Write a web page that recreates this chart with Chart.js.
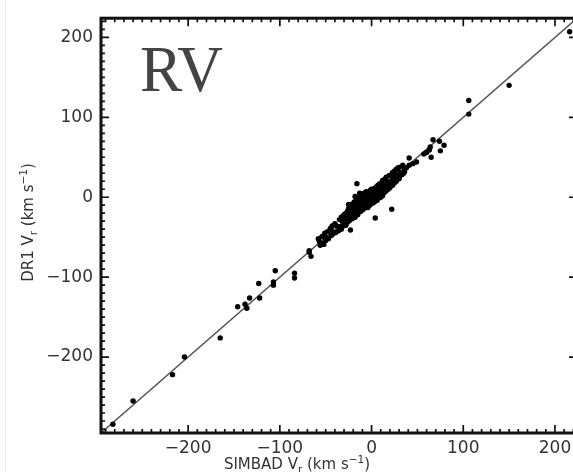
<!DOCTYPE html>
<html><head><meta charset="utf-8">
<script src="https://cdn.jsdelivr.net/npm/chart.js@4/dist/chart.umd.min.js"></script>
<style>
html,body{margin:0;padding:0;background:#fff;overflow:hidden;width:573px;height:472px}
#wrap{position:relative;width:590px;height:472px}
</style>
</head><body><div id="wrap"><canvas id="c" width="590" height="472"></canvas></div>
<script>
// ---- data ----
const axisMin = -295, axisMax = 224;
const xTicks = [-200, -100, 0, 100, 200];
const yTicks = [-200, -100, 0, 100, 200];
const minorStep = 10;
const xTitle = ['SIMBAD V', {sub: 'r'}, ' (km s', {sup: '\u22121'}, ')'];
const yTitle = ['DR1 V', {sub: 'r'}, ' (km s', {sup: '\u22121'}, ')'];
const panelLabel = 'RV';

// SIMBAD Vr (x) and DR1 Vr (y), km/s
const simbadV = [
 216,150,106,106,67,74,79,75,64,63,60,57,65,41,49,45,41,38,36,32,30,
 15,-16,-13,-18,-25,22,4,-31,-23,-44,-51,-57,-68,-66,-68,-105,-84,-84,-52,-49,
 -123,-107,-107,-133,-122,-146,-138,-136,-165,-204,-217,-260,-282,
 -58,-56,-54,-53,-51,-50,-48,-47,-45,-44,-43,-42,-40,-39,-38,
 -36,-35,-34,-33,-33,-32,-31,-30,-30,-29,-28,-28,-27,-26,-26,-25,-25,-24,-24,-23,-23,-22,-22,-21,-21,-20,-20,-19,-19,-18,
 -18,-17,-17,-16,-16,-15,-15,-14,-14,-13,-13,-12,-12,-11,-11,-10,-10,-9,-9,-8,-8,-7,-7,-6,-6,-5,-5,-4,-4,-3,-3,-2,-2,-1,-1,0,0,0,-6,-10,
 1,1,2,2,3,3,4,4,5,5,6,6,7,7,8,8,9,9,10,10,11,11,12,12,13,14,14,15,16,16,17,18,19,19,20,
 21,21,22,23,23,24,25,25,26,27,27,28,29,30,31,32,33,34,35,36
];
const dr1V = [
 207,140,121,104,72,70,65,58,63,59,56,54,50,49,44,42,40,37,32,28,23,
 23,17,5,1,-9,-15,-26,-24,-41,-41,-50,-55,-67,-74,-69,-92,-95,-101,-59,-51,
 -108,-106,-110,-126,-126,-137,-134,-139,-176,-200,-222,-255,-284,
 -52,-60,-49,-58,-45,-54,-43,-52,-39,-48,-36,-46,-33,-44,-36,
 -42,-28,-37,-25,-40,-30,-36,-22,-34,-27,-20,-35,-24,-17,-31,-24,-14,-29,-19,-12,-27,-19,-9,-27,-16,-12,-24,-6,-19,-13,
 -25,-8,-18,-12,-2,-22,-10,-5,-17,0,-11,-18,-6,2,-12,-4,-16,-1,-9,5,-14,-4,3,-11,-2,6,-8,-1,-13,7,-5,2,-10,9,-3,3,-8,10,7,4,
 -4,8,4,-7,11,-1,6,-5,13,1,8,-4,15,3,10,-1,17,5,12,0,18,8,2,21,13,6,22,15,8,25,18,10,27,19,12,
 28,15,21,31,15,24,33,18,27,35,20,28,37,25,31,38,28,40,30,36
];
const linePts = [axisMin, axisMax];

// ---- chart ----
const fmt = v => (v < 0 ? '\u2212' + Math.abs(v) : String(v));
const points = simbadV.map((x, i) => ({x: x, y: dr1V[i]}));

function drawRich(ctx, parts, size, family) {
  const segs = parts.map(p => {
    if (typeof p === 'string') return {t: p, s: size, dy: 0};
    if (p.sub) return {t: p.sub, s: size * 0.7, dy: size * 0.25};
    return {t: p.sup, s: size * 0.7, dy: -size * 0.42};
  });
  let total = 0;
  segs.forEach(s => { ctx.font = s.s + 'px "' + family + '"'; s.w = ctx.measureText(s.t).width; total += s.w; });
  let x = -total / 2;
  segs.forEach(s => { ctx.font = s.s + 'px "' + family + '"'; ctx.fillText(s.t, x, s.dy); x += s.w; });
}

const framePlugin = {
  id: 'frame',
  afterDatasetsDraw(chart) {
    const {ctx, chartArea: a, scales: {x, y}} = chart;
    ctx.save();
    ctx.strokeStyle = '#111';
    ctx.lineWidth = 1.7;
    ctx.beginPath();
    for (let v = Math.ceil(axisMin / minorStep) * minorStep; v <= axisMax; v += minorStep) {
      const L = (v % 100 === 0) ? 8 : 4;
      const px = x.getPixelForValue(v), py = y.getPixelForValue(v);
      ctx.moveTo(px, a.bottom); ctx.lineTo(px, a.bottom - L);
      ctx.moveTo(px, a.top); ctx.lineTo(px, a.top + L);
      ctx.moveTo(a.left, py); ctx.lineTo(a.left + L, py);
      ctx.moveTo(a.right, py); ctx.lineTo(a.right - L, py);
    }
    ctx.stroke();
    ctx.lineWidth = 3;
    ctx.strokeRect(a.left, a.top, a.right - a.left, a.bottom - a.top);
    ctx.restore();
  },
  afterDraw(chart) {
    const ctx = chart.ctx;
    ctx.save();
    ctx.fillStyle = 'rgba(0,0,0,0.07)';
    ctx.fillRect(5, 0, 1, 472);
    ctx.fillStyle = '#333';
    ctx.textBaseline = 'alphabetic';
    ctx.textAlign = 'left';
    ctx.save(); ctx.translate(297, 469); drawRich(ctx, xTitle, 15, 'DejaVu Sans'); ctx.restore();
    ctx.save(); ctx.translate(33, 222.5); ctx.rotate(-Math.PI / 2); drawRich(ctx, yTitle, 15, 'DejaVu Sans'); ctx.restore();
    ctx.save(); ctx.fillStyle = '#444'; ctx.font = '66px "Liberation Serif"';
    ctx.translate(140, 91); ctx.scale(0.96, 1); ctx.fillText(panelLabel, 0, 0); ctx.restore();
    ctx.restore();
  }
};

new Chart(document.getElementById('c'), {
  data: {
    datasets: [
      {type: 'line', data: linePts.map(v => ({x: v, y: v})), borderColor: '#555', borderWidth: 1.4,
       pointRadius: 0, fill: false, order: 2},
      {type: 'scatter', data: points, backgroundColor: '#000', borderColor: '#000', borderWidth: 0,
       pointRadius: 2.7, order: 1}
    ]
  },
  options: {
    responsive: false, animation: false,
    layout: {padding: {top: 16, right: 13, left: 0, bottom: 0}},
    plugins: {legend: {display: false}, tooltip: {enabled: false}},
    scales: {
      x: {type: 'linear', position: 'bottom', min: axisMin, max: axisMax,
          afterBuildTicks: s => { s.ticks = xTicks.map(v => ({value: v})); },
          afterFit: s => { s.height = 39; },
          grid: {display: false, drawTicks: false}, border: {display: false},
          ticks: {font: {family: 'DejaVu Sans', size: 17}, color: '#333', padding: 5,
                  maxRotation: 0, autoSkip: false, callback: v => fmt(v)}},
      y: {type: 'linear', position: 'left', min: axisMin, max: axisMax,
          afterBuildTicks: s => { s.ticks = yTicks.map(v => ({value: v})); },
          afterFit: s => { s.width = 101; },
          grid: {display: false, drawTicks: false}, border: {display: false},
          ticks: {font: {family: 'DejaVu Sans', size: 17}, color: '#333', padding: 8,
                  autoSkip: false, callback: v => fmt(v)}}
    }
  },
  plugins: [framePlugin]
});
</script>
</body></html>
